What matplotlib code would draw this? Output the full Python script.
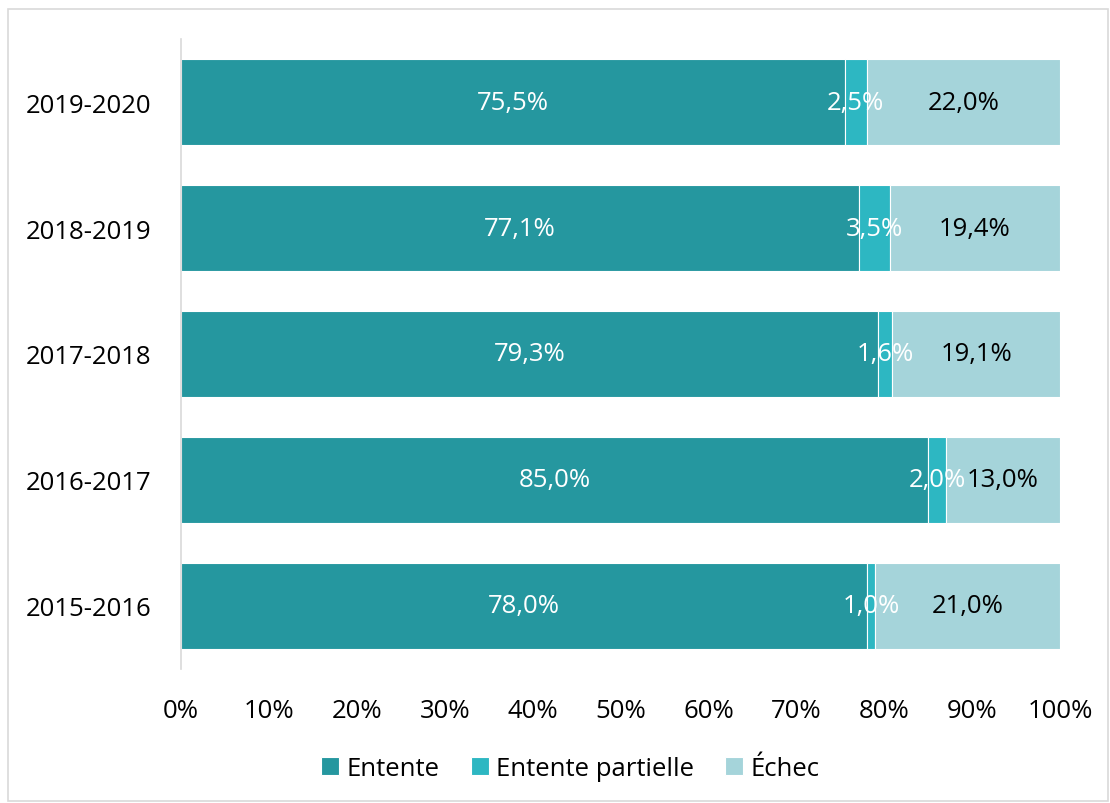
import matplotlib.pyplot as plt
import numpy as np
from matplotlib.patches import Rectangle

# data
years = ['2015-2016', '2016-2017', '2017-2018', '2018-2019', '2019-2020']
entente = [78.0, 85.0, 79.3, 77.1, 75.5]
partielle = [1.0, 2.0, 1.6, 3.5, 2.5]
echec = [21.0, 13.0, 19.1, 19.4, 22.0]

series_names = ['Entente', 'Entente partielle', 'Échec']
colors = ['#25979F', '#2DB7C2', '#A5D4DA']
label_colors = ['white', 'white', 'black']

plt.rcParams['font.family'] = ['Open Sans', 'DejaVu Sans']
fs = 18.5

fig = plt.figure(figsize=(11.1, 8.04), dpi=100)
ax = fig.add_axes([0.163, 0.167, 0.792, 0.783])

y = np.arange(len(years))
left = np.zeros(len(years))
for vals, name, col, lc in zip([entente, partielle, echec], series_names, colors, label_colors):
    vals = np.array(vals)
    bars = ax.barh(y, vals, left=left, height=0.68, color=col, edgecolor='white',
                   linewidth=0.8, label=name)
    #put the value in the middle of each segment
    for b, v in zip(bars, vals):
        cx = b.get_x() + b.get_width() / 2
        ax.text(cx, b.get_y() + b.get_height() / 2, f'{v:.1f}%'.replace('.', ','),
                ha='center', va='center', color=lc, fontsize=fs)
    left += vals

ax.set_xlim(0, 100)
ax.set_ylim(-0.5, 4.5)
ax.set_yticks(y)
ax.set_yticklabels(years, fontsize=fs)
ax.set_xticks(np.arange(0, 101, 10))
ax.set_xticklabels([f'{t}%' for t in range(0, 101, 10)], fontsize=fs)
ax.tick_params(length=0)
ax.tick_params(axis='y', pad=21)
ax.tick_params(axis='x', pad=21)
for s in ['top', 'right', 'bottom']:
    ax.spines[s].set_visible(False)
ax.spines['left'].set_color('#D9D9D9')
ax.spines['left'].set_linewidth(1.2)

leg = ax.legend(loc='center', bbox_to_anchor=(0.514, 0.043), bbox_transform=fig.transFigure,
                ncol=3, frameon=False, fontsize=fs, handlelength=0.7, handleheight=0.7,
                handletextpad=0.3, columnspacing=1.2)

# light grey frame around the whole chart
fig.patches.append(Rectangle((0.007, 0.003), 0.991, 0.985, transform=fig.transFigure,
                             fill=False, edgecolor='#D9D9D9', linewidth=1.2))

plt.savefig('out.png', dpi=100)
